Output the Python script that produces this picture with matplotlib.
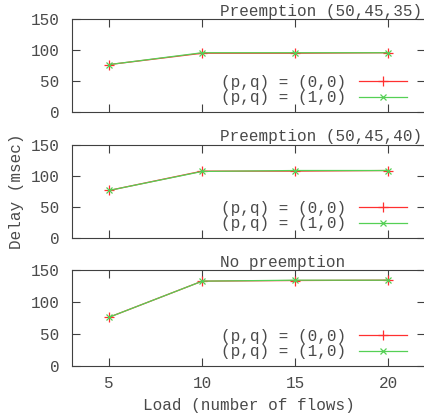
import matplotlib
matplotlib.use("Agg")
import matplotlib.pyplot as plt

loads = [5, 10, 15, 20]
titles = ["Preemption (50,45,35)", "Preemption (50,45,40)", "No preemption"]
series_labels = ["(p,q) = (0,0)", "(p,q) = (1,0)"]
delay_00 = [
    [76.5, 94.8, 94.8, 95.6],
    [76.5, 107.5, 107.5, 108.5],
    [76.5, 133.0, 134.0, 134.5],
]
delay_10 = [
    [76.5, 95.6, 95.6, 95.6],
    [76.5, 107.0, 108.5, 108.5],
    [76.5, 133.0, 134.5, 134.5],
]
yticks = [0, 50, 100, 150]
xticks = [5, 10, 15, 20]

FONT = "Liberation Mono"
FS = 11.5
TXT = "#4a4a4a"
plt.rcParams["font.family"] = [FONT, "DejaVu Sans Mono"]
plt.rcParams["font.size"] = FS

fig = plt.figure(figsize=(4.24, 4.18), dpi=100)
W, H = 424, 418
left = 72 / W
width = (425.4 - 72) / W
panels = [(19, 112), (144.7, 238), (270.3, 366)]

for i, (top, bot) in enumerate(panels):
    ax = fig.add_axes([left, 1 - bot / H, width, (bot - top) / H])
    ax.plot(loads, delay_00[i], color="#ff3030", lw=0.9, marker="+", ms=7,
            mew=0.9, label=series_labels[0])
    ax.plot(loads, delay_10[i], color="#55d055", lw=0.9, marker="x", ms=5,
            mew=0.9, label=series_labels[1])
    ax.set_xlim(3, 22)
    ax.set_ylim(0, 150)
    ax.set_yticks(yticks)
    ax.set_xticks(xticks)
    ax.tick_params(direction="in", length=6, width=0.8, color="#404040",
                   top=True, right=True, labelcolor=TXT, labelsize=FS, pad=9)
    ax.tick_params(axis="x", pad=7)
    if i < 2:
        ax.tick_params(labelbottom=False)
    for s in ax.spines.values():
        s.set_color("#404040")
        s.set_linewidth(0.8)
    ax.text(0.419, 1.005, titles[i], transform=ax.transAxes, ha="left",
            va="bottom", color=TXT, fontsize=FS, clip_on=False)
    leg = ax.legend(loc="lower right", bbox_to_anchor=(0.948, 0.07),
                    frameon=False, markerfirst=False, borderpad=0,
                    borderaxespad=0, handlelength=3.0, handletextpad=0.8,
                    labelspacing=0.05, fontsize=FS)
    for t in leg.get_texts():
        t.set_color(TXT)
        t.set_ha("right")
    if i == 1:
        ax.set_ylabel("Delay (msec)", color=TXT, fontsize=FS, labelpad=5)
    if i == 2:
        ax.set_xlabel("Load (number of flows)", color=TXT, fontsize=FS,
                      labelpad=5)

fig.savefig("out.png", dpi=100)
